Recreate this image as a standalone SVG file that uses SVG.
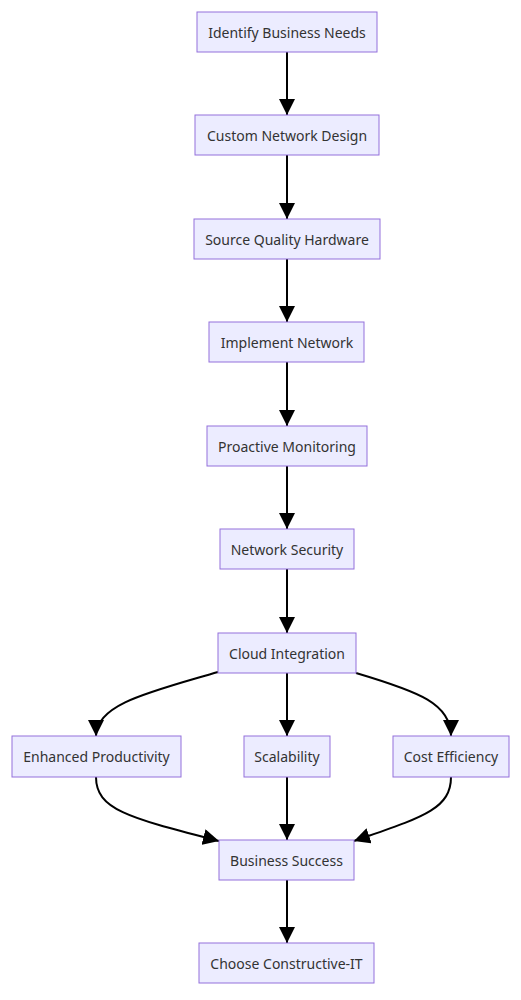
<svg xmlns="http://www.w3.org/2000/svg" width="521" height="1000" viewBox="0 0 521 1000">
<style>
.node rect{fill:#ECECFF;stroke:#9370DB;stroke-width:1}
.node text{font-family:"Noto Sans","Open Sans",sans-serif;font-size:14px;fill:#333;text-anchor:middle;dominant-baseline:central}
.edge{fill:none;stroke:#000;stroke-width:2}
</style>
<defs>
<marker id="arr" markerUnits="userSpaceOnUse" markerWidth="16" markerHeight="16" viewBox="0 0 14 14" refX="14" refY="7" orient="auto">
<path d="M0,0 L14,7 L0,14 Z" fill="#000"/>
</marker>
</defs>
<rect width="521" height="1000" fill="#fff"/>
<g id="edges">
<path class="edge" d="M287,52 V115" marker-end="url(#arr)"/>
<path class="edge" d="M287,155 V219" marker-end="url(#arr)"/>
<path class="edge" d="M287,259 V322" marker-end="url(#arr)"/>
<path class="edge" d="M287,362 V426" marker-end="url(#arr)"/>
<path class="edge" d="M287,466 V529" marker-end="url(#arr)"/>
<path class="edge" d="M287,569 V633" marker-end="url(#arr)"/>
<path class="edge" d="M287,673 V736" marker-end="url(#arr)"/>
<path class="edge" d="M218,672 C150,692 96,704 96,736" marker-end="url(#arr)"/>
<path class="edge" d="M356,673 C420,692 451,704 451,736" marker-end="url(#arr)"/>
<path class="edge" d="M287,777 V840" marker-end="url(#arr)"/>
<path class="edge" d="M96,777 C96,810 130,818 219,841" marker-end="url(#arr)"/>
<path class="edge" d="M451,777 C451,810 420,818 354,841" marker-end="url(#arr)"/>
<path class="edge" d="M287,880 V943" marker-end="url(#arr)"/>
</g>
<g id="n1" class="node"><rect x="197" y="12" width="180" height="40"/><text x="287" y="32">Identify Business Needs</text></g>
<g id="n2" class="node"><rect x="195" y="115" width="184" height="40"/><text x="287" y="135">Custom Network Design</text></g>
<g id="n3" class="node"><rect x="194" y="219" width="186" height="40"/><text x="287" y="239">Source Quality Hardware</text></g>
<g id="n4" class="node"><rect x="209" y="322" width="155" height="40"/><text x="287" y="342">Implement Network</text></g>
<g id="n5" class="node"><rect x="207" y="426" width="160" height="40"/><text x="287" y="446">Proactive Monitoring</text></g>
<g id="n6" class="node"><rect x="220" y="529" width="134" height="40"/><text x="287" y="549">Network Security</text></g>
<g id="n7" class="node"><rect x="218" y="633" width="138" height="40"/><text x="287" y="653">Cloud Integration</text></g>
<g id="n8" class="node"><rect x="12" y="736" width="169" height="41"/><text x="96.5" y="756.5">Enhanced Productivity</text></g>
<g id="n9" class="node"><rect x="244" y="736" width="86" height="41"/><text x="287" y="756.5">Scalability</text></g>
<g id="n10" class="node"><rect x="393" y="736" width="116" height="41"/><text x="451" y="756.5">Cost Efficiency</text></g>
<g id="n11" class="node"><rect x="219" y="840" width="135" height="40"/><text x="286.5" y="860">Business Success</text></g>
<g id="n12" class="node"><rect x="199" y="943" width="175" height="40"/><text x="286.5" y="963">Choose Constructive-IT</text></g>
</svg>
